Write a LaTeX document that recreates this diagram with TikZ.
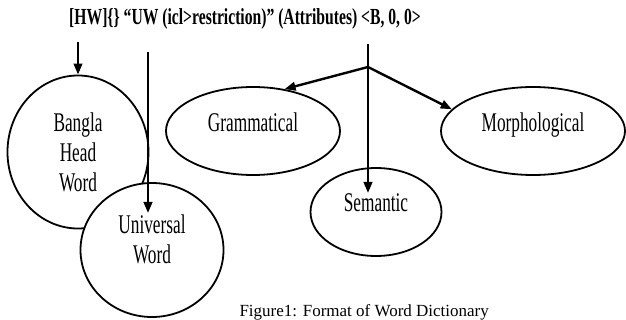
\documentclass[tikz,border=0pt]{standalone}
\usepackage{fontspec}
\setmainfont{Liberation Serif}
\newfontfamily\narrowfont[FakeStretch=0.64]{Liberation Serif}
\newfontfamily\headfont[FakeStretch=0.68]{Liberation Serif}
\usetikzlibrary{arrows.meta, shapes.geometric}

\begin{document}
\begin{tikzpicture}[
  x=1pt, y=-1pt,
  font=\narrowfont\fontsize{27}{30}\selectfont,
  bubble/.style={
    ellipse, draw=black, line width=1.8pt, fill=white,
    inner sep=0pt, align=center
  },
  link/.style={line width=2.4pt, -{Triangle[length=11pt, width=8.5pt]}},
  stem/.style={line width=2.4pt}
]
  \useasboundingbox (0,0) rectangle (626,320);

  \node[font=\headfont\bfseries\fontsize{23}{26}\selectfont] (format) at (245,19)
    {[HW]\{\} “UW (icl>restriction)” (Attributes) <B, 0, 0>};

  \node[bubble, minimum width=141pt, minimum height=153pt] (bangla) at (78,152) {Bangla\\Head\\Word};
  \node[bubble, minimum width=143pt, minimum height=134pt, text depth=22pt] (uw) at (152,250) {Universal\\Word};
  \node[bubble, minimum width=174pt, minimum height=88pt, text depth=18pt] (gram) at (253,131) {Grammatical};
  \node[bubble, minimum width=184pt, minimum height=88pt, text depth=18pt] (morph) at (533,131) {Morphological};
  \node[bubble, minimum width=131pt, minimum height=88pt, text depth=18pt] (sem) at (376,212) {Semantic};

  \coordinate (hwtop) at (78,42);
  \coordinate (uwtop) at (148,52);
  \coordinate (uwend) at (148,213);
  \coordinate (attrtop) at (368,44);
  \coordinate (fork) at (368,67);
  \coordinate (semend) at (368,193);

  \draw[link] (hwtop) -- (bangla.north);
  \draw[link] (uwtop) -- (uwend);
  \draw[stem] (attrtop) -- (fork);
  \draw[link] (fork) -- (gram.53);
  \draw[link] (fork) -- (morph.165);
  \draw[link] (fork) -- (semend);

  \node[anchor=north west, font=\rmfamily\fontsize{17}{20}\selectfont] (caption) at (236,301)
    {Figure1: Format of Word Dictionary};
\end{tikzpicture}
\end{document}
